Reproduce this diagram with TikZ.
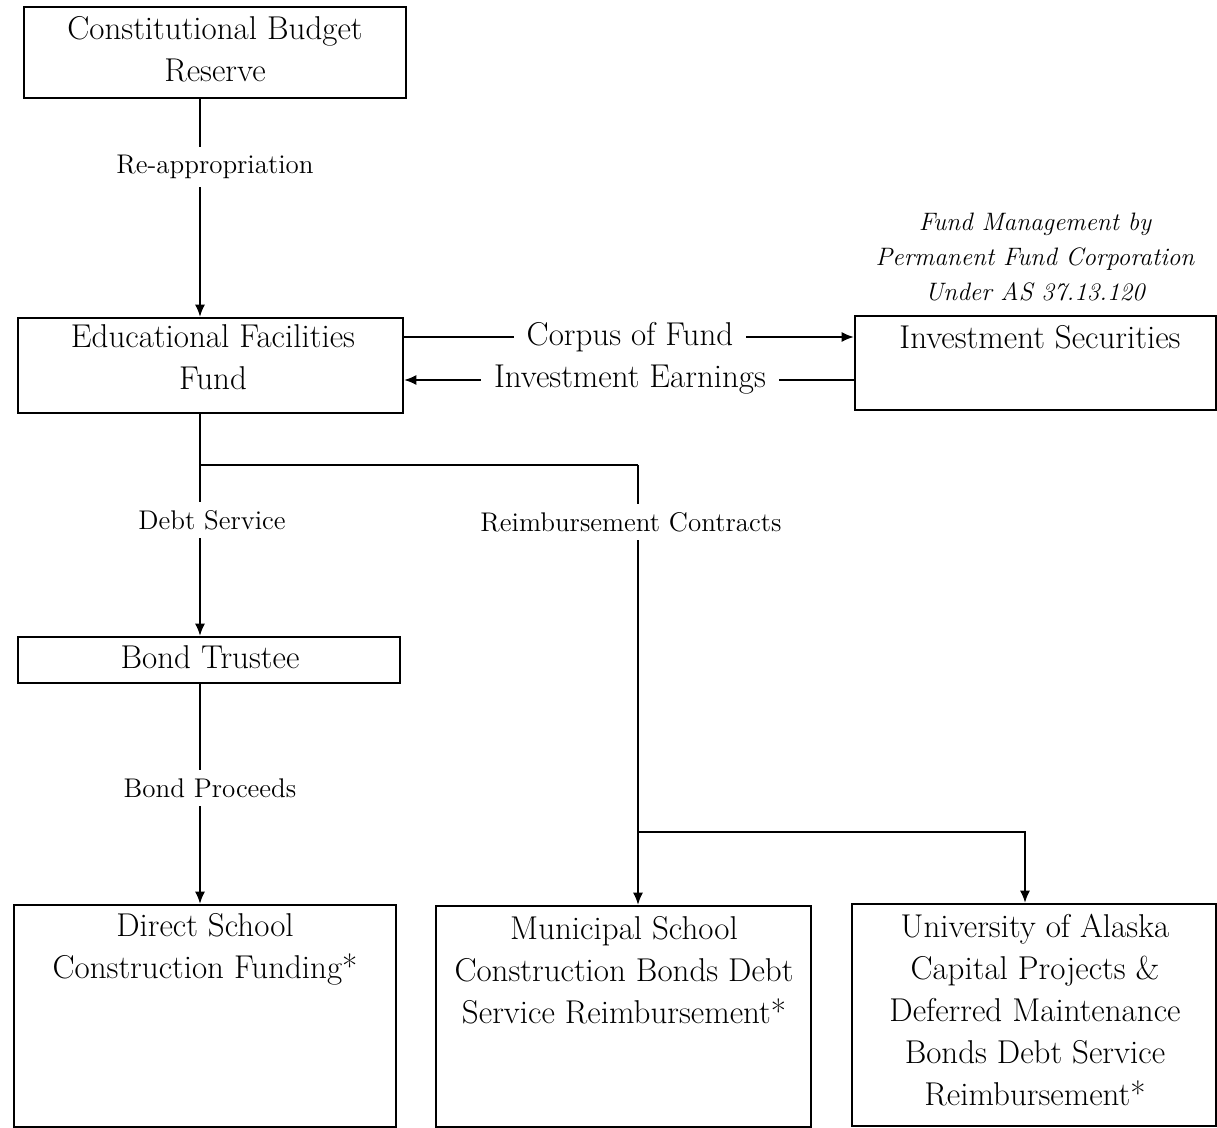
\documentclass[tikz,border=0pt]{standalone}
\usetikzlibrary{arrows.meta,fit}
\begin{document}
\begin{tikzpicture}[x=0.5pt,y=-0.5pt,
 box/.style={draw, line width=1.3pt, inner sep=0pt},
 conn/.style={line width=0.75pt},
 arr/.style={conn,-{Latex[length=6pt,width=5pt]}},
 main/.style={font=\fontsize{16.5}{21}\selectfont, align=center, inner sep=0pt},
 lab/.style={font=\fontsize{13.5}{16}\selectfont, fill=white, inner xsep=6pt, inner ysep=4pt},
 labbig/.style={font=\fontsize{16.5}{21}\selectfont, fill=white, inner xsep=6.5pt, inner ysep=1pt},
 note/.style={font=\fontsize{12.6}{17.5}\selectfont\itshape, align=center, inner sep=0pt}]
\useasboundingbox (0,0) rectangle (1217,1128);
\fill[white] (0,0) rectangle (1217,1128);
% boxes
\node[box, fit={(24,7) (406,98)}] (cbr) {};
\node[box, fit={(18,318) (403,413)}] (eff) {};
\node[box, fit={(855,316) (1216,410)}] (inv) {};
\node[box, fit={(18,637) (400,683)}] (bt) {};
\node[box, fit={(14,905) (396,1127)}] (dsc) {};
\node[box, fit={(436,906) (811,1127)}] (msc) {};
\node[box, fit={(852,904) (1216,1126)}] (ua) {};
% texts
\node[main] (cbrt) at (215,49) {Constitutional Budget\\Reserve};
\node[main] (efft) at (213,357) {Educational Facilities\\Fund};
\node[main] (invt) at (1040,337) {Investment Securities};
\node[note] (mgmt) at (1035,257) {Fund Management by\\Permanent Fund Corporation\\Under AS 37.13.120};
\node[main] (btt) at (210,657) {Bond Trustee};
\node[main] (dsct) at (205,949) {Direct School\\Construction Funding*};
\node[main] (msct) at (624,970) {Municipal School\\Construction Bonds Debt\\Service Reimbursement*};
\node[main] (uat) at (1035,1010) {University of Alaska\\Capital Projects \&\\Deferred Maintenance\\Bonds Debt Service\\Reimbursement*};
% connector helpers
\coordinate (colA) at (200,0);
\coordinate (colB) at (638,0);
\coordinate (colC) at (1025,0);
\coordinate (rowA) at (0,337);
\coordinate (rowB) at (0,380);
\coordinate (j1) at (200,465);
\coordinate (j2) at (638,465);
\coordinate (j3) at (638,832);
\coordinate (j4) at (1025,832);
% connectors
\draw[arr] (cbr.south -| colA) -- (eff.north -| colA);
\draw[arr] (eff.east |- rowA) -- (inv.west |- rowA);
\draw[arr] (inv.west |- rowB) -- (eff.east |- rowB);
\draw[conn] (eff.south -| colA) -- (j1) -- (j2);
\draw[arr] (j1) -- (bt.north -| colA);
\draw[arr] (j2) -- (msc.north -| colB);
\draw[arr] (j3) -- (j4) -- (ua.north -| colC);
\draw[arr] (bt.south -| colA) -- (dsc.north -| colA);
% labels
\node[lab] (reap) at (215,167) {Re-appropriation};
\node[lab] (debt) at (212,520) {Debt Service};
\node[lab] (reim) at (631,522) {Reimbursement Contracts};
\node[lab] (bp) at (210,788) {Bond Proceeds};
\node[labbig] (corp) at (630,337) {Corpus of Fund};
\node[labbig] (earn) at (630,380) {Investment Earnings};
\end{tikzpicture}
\end{document}
